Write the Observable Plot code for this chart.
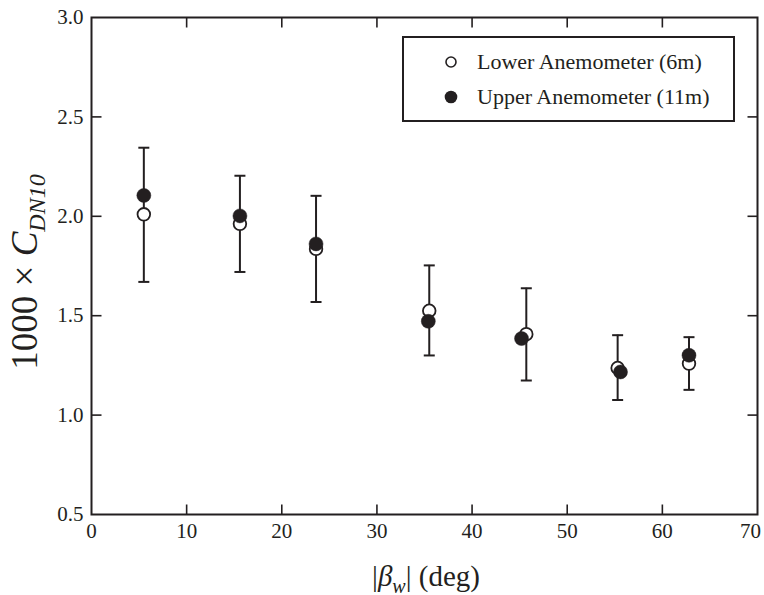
<!DOCTYPE html>
<html>
<head>
<meta charset="utf-8">
<script src="https://cdn.jsdelivr.net/npm/d3@7"></script>
<script src="https://cdn.jsdelivr.net/npm/@observablehq/plot@0.6"></script>
<style>
  html, body { margin: 0; padding: 0; background: #fff; }
  #chart svg { display: block; }
  #chart svg, #chart svg text, #chart svg tspan { font-family: "Liberation Serif", serif !important; }
</style>
</head>
<body>
<div id="chart"></div>
<script>
// Wind angle |beta_w| (deg) for each bin (lower anemometer / error bar position)
const angleLower = [5.5, 15.6, 23.6, 35.5, 45.7, 55.3, 62.8];
// Angle positions of upper anemometer markers
const angleUpper = [5.5, 15.6, 23.6, 35.4, 45.2, 55.6, 62.8];
// 1000 x C_DN10 values
const lowerValues = [2.01, 1.962, 1.836, 1.525, 1.407, 1.237, 1.259];
const upperValues = [2.105, 2.002, 1.861, 1.472, 1.385, 1.217, 1.301];
// error bar extents
const errHigh = [2.345, 2.204, 2.103, 1.753, 1.638, 1.402, 1.392];
const errLow  = [1.670, 1.720, 1.569, 1.300, 1.174, 1.076, 1.127];
// tick values
const xTicks = [0, 10, 20, 30, 40, 50, 60, 70];
const yTicks = [0.5, 1.0, 1.5, 2.0, 2.5, 3.0];

const lower = angleLower.map((a, i) => ({x: a, y: lowerValues[i], hi: errHigh[i], lo: errLow[i]}));
const upper = angleUpper.map((a, i) => ({x: a, y: upperValues[i]}));

const TL = 10;
const tickUp    = {draw(c) { c.moveTo(0, 0); c.lineTo(0, -TL); }};
const tickDown  = {draw(c) { c.moveTo(0, 0); c.lineTo(0, TL); }};
const tickRight = {draw(c) { c.moveTo(0, 0); c.lineTo(TL, 0); }};
const tickLeft  = {draw(c) { c.moveTo(0, 0); c.lineTo(-TL, 0); }};
const cap = {draw(c) { c.moveTo(-5.5, 0); c.lineTo(5.5, 0); }};

const FONT = "Liberation Serif, serif";
const INK = "#231f20";

const plot = Plot.plot({
  width: 764,
  height: 595,
  marginLeft: 91,
  marginRight: 7,
  marginTop: 17,
  marginBottom: 81,
  style: {fontFamily: FONT, fontSize: "21px", color: INK, background: "#fff"},
  x: {domain: [0, 70]},
  y: {domain: [0.5, 3.0]},
  marks: [
    Plot.axisX(xTicks.slice(0, -1), {tickSize: 0, tickPadding: 9, label: null, fontSize: 21, fill: INK}),
    Plot.axisX(xTicks.slice(-1), {tickSize: 0, tickPadding: 9, label: null, fontSize: 21, fill: INK, dx: -7}),
    Plot.axisY(yTicks, {tickSize: 0, tickPadding: 8, label: null, fontSize: 21, fill: INK, tickFormat: d3.format(".1f")}),
    // inward ticks
    Plot.dot(xTicks.slice(1, -1), {x: d => d, y: 0.5, symbol: tickUp, fill: "none", stroke: INK, strokeWidth: 1.6}),
    Plot.dot(xTicks.slice(1, -1), {x: d => d, y: 3.0, symbol: tickDown, fill: "none", stroke: INK, strokeWidth: 1.6}),
    Plot.dot(yTicks.slice(1, -1), {x: 0, y: d => d, symbol: tickRight, fill: "none", stroke: INK, strokeWidth: 1.6}),
    Plot.dot(yTicks.slice(1, -1), {x: 70, y: d => d, symbol: tickLeft, fill: "none", stroke: INK, strokeWidth: 1.6}),
    // error bars
    Plot.ruleX(lower, {x: "x", y1: "lo", y2: "hi", stroke: INK, strokeWidth: 2}),
    Plot.dot(lower, {x: "x", y: "hi", symbol: cap, fill: "none", stroke: INK, strokeWidth: 2}),
    Plot.dot(lower, {x: "x", y: "lo", symbol: cap, fill: "none", stroke: INK, strokeWidth: 2}),
    // markers
    Plot.dot(lower, {x: "x", y: "y", r: 6.3, fill: "white", stroke: INK, strokeWidth: 1.8}),
    Plot.dot(upper, {x: "x", y: "y", r: 7, fill: INK, stroke: INK, strokeWidth: 0.5}),
    Plot.frame({stroke: INK, strokeWidth: 2})
  ]
});

document.getElementById("chart").appendChild(plot);

const svg = d3.select(plot);

// x axis label |β_w| (deg)
const xl = svg.append("text")
  .attr("x", 426).attr("y", 586)
  .attr("text-anchor", "middle")
  .attr("font-size", 29).attr("fill", INK);
xl.append("tspan").text("|");
xl.append("tspan").attr("font-style", "italic").text("β");
xl.append("tspan").attr("font-style", "italic").attr("font-size", 20).attr("dy", 7).text("w");
xl.append("tspan").attr("dy", -7).text("| (deg)");

// y axis label 1000 × C_DN10
const yl = svg.append("text")
  .attr("transform", "translate(37,272) rotate(-90)")
  .attr("text-anchor", "middle")
  .attr("font-size", 37).attr("fill", INK);
yl.append("tspan").text("1000 × ");
yl.append("tspan").attr("font-style", "italic").text("C");
yl.append("tspan").attr("font-style", "italic").attr("font-size", 24).attr("dy", 8).text("DN10");

// legend
const lg = svg.append("g").attr("text-anchor", "start");
lg.append("rect").attr("x", 403).attr("y", 37).attr("width", 331).attr("height", 84)
  .attr("fill", "white").attr("stroke", INK).attr("stroke-width", 2);
lg.append("circle").attr("cx", 451).attr("cy", 62).attr("r", 5)
  .attr("fill", "white").attr("stroke", INK).attr("stroke-width", 1.6);
lg.append("circle").attr("cx", 451).attr("cy", 97).attr("r", 6.3).attr("fill", INK);
lg.append("text").attr("x", 477).attr("y", 69)
  .attr("font-size", 22).attr("fill", INK)
  .text("Lower Anemometer (6m)");
lg.append("text").attr("x", 477).attr("y", 104)
  .attr("font-size", 22).attr("fill", INK)
  .text("Upper Anemometer (11m)");
</script>
</body>
</html>
